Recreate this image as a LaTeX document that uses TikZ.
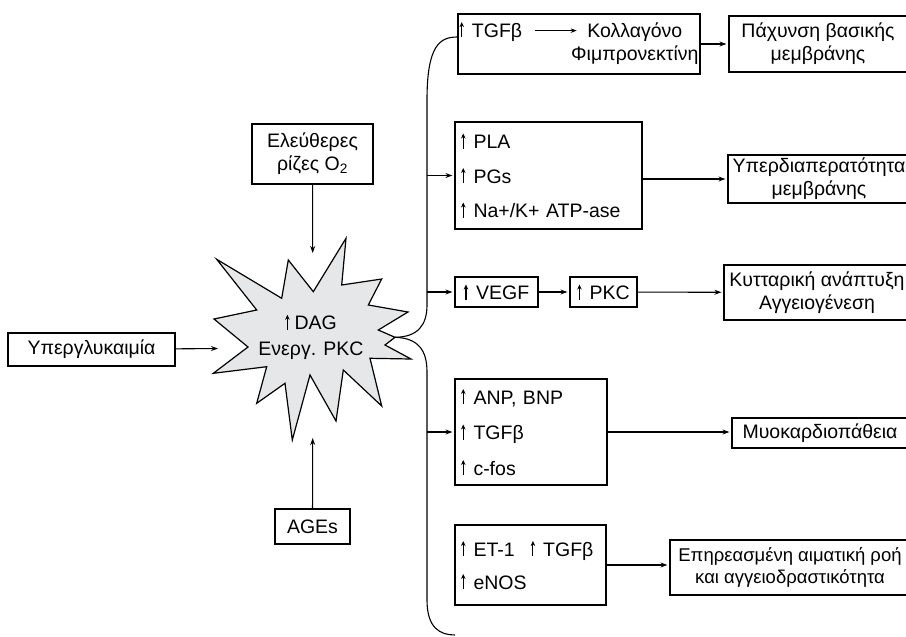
\documentclass[tikz,border=0pt]{standalone}
\usepackage{fontspec}
\setmainfont{Liberation Sans}
\usetikzlibrary{arrows.meta, positioning}

\definecolor{burstgray}{HTML}{E6E7E8}
\tikzset{
  box/.style 2 args={draw, line width=1.2pt, align=center, inner sep=0pt, minimum width=#1, minimum height=#2},
  listbox/.style 2 args={draw, line width=1.2pt, align=left, inner xsep=6pt, inner ysep=0pt, text width=#1, minimum height=#2},
  arr/.style={-{Stealth[length=7pt,width=5pt]}, line width=1.1pt, shorten >=2pt},
  brace/.style={line width=1.1pt}
}
% small up arrow and long arrow used inside the texts
\newcommand{\up}{\tikz[baseline=0pt]\draw[line width=1.1pt,-{Stealth[length=5pt,width=4.5pt]}] (0pt,0pt) -- (0pt,15pt);\hspace{8pt}}
\newcommand{\longar}{\tikz[baseline=0pt]\draw[line width=1pt,-{Stealth[length=6pt,width=4.5pt]}] (0pt,6.5pt) -- (42pt,6.5pt);}

\begin{document}
\begin{tikzpicture}[x=1pt, y=-1pt, font=\fontsize{19.5}{23}\selectfont]
\useasboundingbox (0,0) rectangle (906,637);

% the starburst
\filldraw[fill=burstgray, line width=1.2pt, line join=miter]
  (216.7,259.3) -- (281.7,298.3) -- (288.3,260) -- (313.3,291.7) -- (346,238.3)
  -- (341.7,285) -- (381.7,279) -- (368.3,305) -- (408,312) -- (378.3,330)
  -- (395,337.3) -- (385,345) -- (411,359) -- (370,358.3) -- (381.7,406)
  -- (343.3,370) -- (336,421) -- (310,375) -- (292.3,440) -- (285,383.3)
  -- (256.7,403.3) -- (266.7,366.7) -- (213.3,373.3) -- (248,347) -- (214,319)
  -- (256.7,310) -- cycle;
\node [align=center] (dag) at (311,337) {\up\hspace{-3pt}DAG\\[3pt]Ενεργ. PKC};
\coordinate (startop) at (312.7,255);
\coordinate (starbot) at (312.7,436);
\coordinate (starleft) at (220,348.5);
\coordinate (tip) at (395,337.3);

% inputs
\node [box={167}{33}] (hyper) at (91.5,349.5) {Υπεργλυκαιμία};
\node [box={121}{60}] (ros) at (312.5,154) {Ελεύθερες\\ρίζες O\textsubscript{2}};
\node [box={75}{35}] (ages) at (312.5,526.5) {AGEs};
\draw[arr] (hyper) -- (starleft);
\draw[arr] (ros) -- (startop);
\draw[arr] (ages) -- (starbot);

% middle column
\node [box={242}{60}] (b1) at (579,44) {\begin{tabular}{@{}l@{}c@{}}\up TGFβ\hspace{12pt}\longar\hspace{-6pt} & Κολλαγόνο\\ & Φιμπρονεκτίνη\end{tabular}};
\node [listbox={175}{107}] (b2) at (548.5,175.5) {\up PLA\\[11.5pt]\up PGs\\[11.5pt]\up Na+/K+ ATP-ase};
\node [box={83}{30}] (vegf) at (496.5,292) {\up VEGF};
\node [box={67}{30}] (pkc) at (603.5,292) {\up PKC};
\node [listbox={140}{106}] (b4) at (531,432) {\up ANP, BNP\\[12.5pt]\up TGFβ\\[12.5pt]\up c-fos};
\node [listbox={139}{80}] (b5) at (530.5,565) {\up ET-1\hspace{16pt}\up TGFβ\\[10pt]\up eNOS};

% outcomes
\node [box={178}{56}] (r1) at (818,44) {Πάχυνση βασικής\\μεμβράνης};
\node [box={182}{48}] (r2) at (819,179) {Υπερδιαπερατότητα\\μεμβράνης};
\node [box={186}{55}] (r3) at (817,292.5) {Κυτταρική ανάπτυξη\\Αγγειογένεση};
\node [box={176}{30}] (r4) at (820,433) {Μυοκαρδιοπάθεια};
\node [box={240}{55}, font=\fontsize{18.5}{22}\selectfont] (r5) at (790,567.5) {Επηρεασμένη αιματική ροή\\και αγγειοδραστικότητα};

\draw[arr] (b1) -- (r1);
\draw[arr] (b2.east |- r2) -- (r2.west);
\draw[arr] (vegf) -- (pkc);
\draw[arr] (pkc) -- (r3);
\draw[arr] (b4) -- (r4.west |- b4);
\draw[arr] (b5) -- (r5.west |- b5);

% the brace
\coordinate (spine) at (427,0);
\coordinate (braceend) at (455,635);
\draw[brace] (tip) .. controls (418,337) and (427,325) .. (427,305) -- (427,100)
  .. controls (427,45) and (440,37) .. ([yshift=7pt]b1.west);
\draw[brace] (tip) .. controls (418,338) and (427,350) .. (427,372) -- (427,600)
  .. controls (427,628) and (440,635) .. (braceend);
\draw[arr] (spine |- b2) -- (b2);
\draw[arr] (spine |- vegf) -- (vegf);
\draw[arr] (spine |- b4) -- (b4);
\end{tikzpicture}
\end{document}
